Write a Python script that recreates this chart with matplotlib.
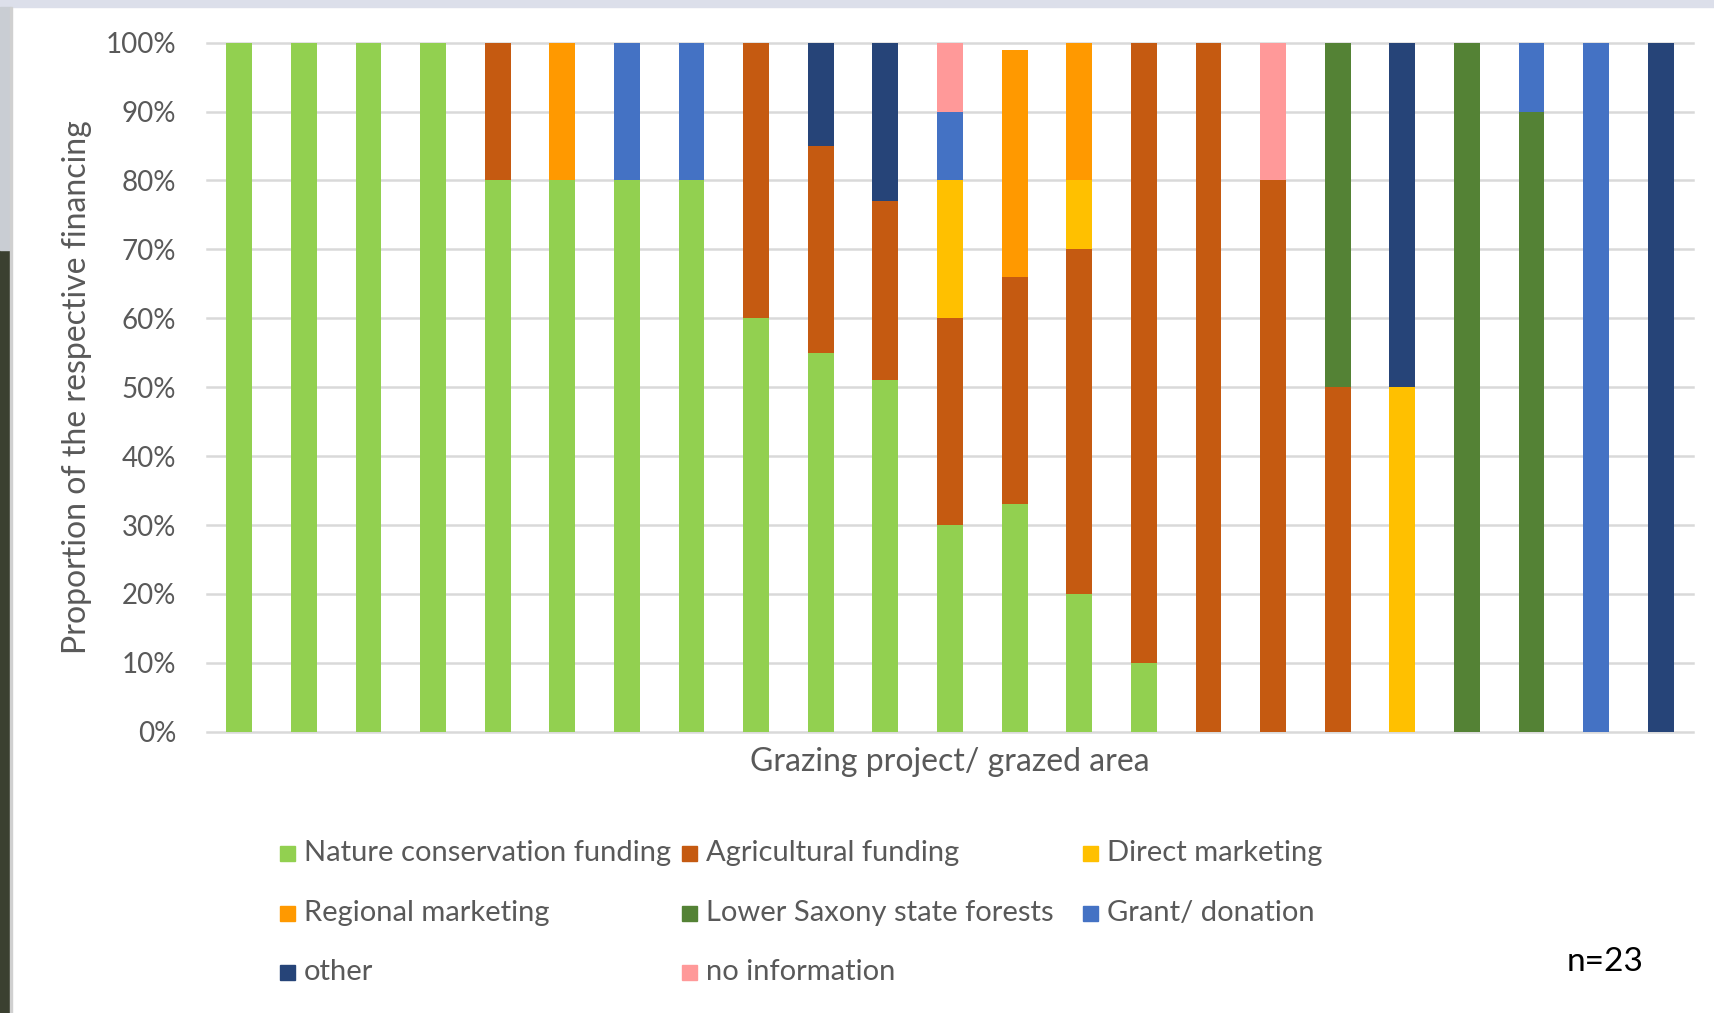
import matplotlib.pyplot as plt
from matplotlib.patches import Rectangle
import numpy as np

plt.rcParams['font.family'] = ['Lato', 'DejaVu Sans']

# shares per grazing project (in %), stacked bottom to top
nature_cons = [100, 100, 100, 100, 80, 80, 80, 80, 60, 55, 51, 30, 33, 20, 10, 0, 0, 0, 0, 0, 0, 0, 0]
agricultural = [0, 0, 0, 0, 20, 0, 0, 0, 40, 30, 26, 30, 33, 50, 90, 100, 80, 50, 0, 0, 0, 0, 0]
direct_mkt = [0, 0, 0, 0, 0, 0, 0, 0, 0, 0, 0, 20, 0, 10, 0, 0, 0, 0, 50, 0, 0, 0, 0]
regional_mkt = [0, 0, 0, 0, 0, 20, 0, 0, 0, 0, 0, 0, 33, 20, 0, 0, 0, 0, 0, 0, 0, 0, 0]
state_forests = [0, 0, 0, 0, 0, 0, 0, 0, 0, 0, 0, 0, 0, 0, 0, 0, 0, 50, 0, 100, 90, 0, 0]
grant = [0, 0, 0, 0, 0, 0, 20, 20, 0, 0, 0, 10, 0, 0, 0, 0, 0, 0, 0, 0, 10, 100, 0]
other = [0, 0, 0, 0, 0, 0, 0, 0, 0, 15, 23, 0, 0, 0, 0, 0, 0, 0, 50, 0, 0, 0, 100]
no_info = [0, 0, 0, 0, 0, 0, 0, 0, 0, 0, 0, 10, 0, 0, 0, 0, 20, 0, 0, 0, 0, 0, 0]

series = [
    ('Nature conservation funding', nature_cons, '#92D050'),
    ('Agricultural funding', agricultural, '#C55A11'),
    ('Direct marketing', direct_mkt, '#FFC000'),
    ('Regional marketing', regional_mkt, '#FF9900'),
    ('Lower Saxony state forests', state_forests, '#548235'),
    ('Grant/ donation', grant, '#4472C4'),
    ('other', other, '#264478'),
    ('no information', no_info, '#FF9999'),
]

W, H = 1714, 1013
fig = plt.figure(figsize=(W / 100, H / 100), dpi=100)
fig.patch.set_facecolor('white')

# screenshot edges
fig.patches.append(Rectangle((0, 1 - 7 / H), 1, 7 / H, transform=fig.transFigure,
                             color='#DCDFEA', zorder=0))
fig.patches.append(Rectangle((0, 0), 10 / W, 1 - 250 / H, transform=fig.transFigure,
                             color='#3B4030', zorder=0))
fig.patches.append(Rectangle((0, 1 - 250 / H), 10 / W, 250 / H - 7 / H, transform=fig.transFigure,
                             color='#C9CDD3', zorder=0))
fig.patches.append(Rectangle((10 / W, 0), 2 / W, 1 - 7 / H, transform=fig.transFigure,
                             color='#D0D0D0', zorder=0))

ax = fig.add_axes((207 / W, 1 - 731.7 / H, 1486 / W, 689 / H))
x = np.arange(len(nature_cons))
bottom = np.zeros(len(x))
for name, vals, col in series:
    vals = np.array(vals, dtype=float)
    ax.bar(x, vals, 0.4, bottom=bottom, color=col, zorder=3, label=name)
    bottom += vals

ax.set_xlim(-0.5, len(x) - 0.5)
ax.set_ylim(0, 100)
ax.set_yticks(range(0, 101, 10))
ax.set_yticklabels([f'{v}%' for v in range(0, 101, 10)])
ax.set_xticks([])
for v in range(0, 101, 10):
    ax.axhline(v, color='#D9D9D9', lw=1.8, zorder=1, clip_on=False)
for s in ax.spines.values():
    s.set_visible(False)
ax.tick_params(axis='y', length=0, pad=22, labelsize=20, labelcolor='#595959')

ax.set_ylabel('Proportion of the respective financing', fontsize=23, color='#595959', va='center')
ax.yaxis.set_label_coords(-0.0875, 0.5)
ax.set_xlabel('Grazing project/ grazed area', fontsize=23, color='#595959', va='center')
ax.xaxis.set_label_coords(0.5, -0.044)

# legend, filled row by row
col_x = [280, 682, 1083]
row_y = [853, 913, 972]
sq = 15
for i, (name, vals, col) in enumerate(series):
    cx = col_x[i % 3]
    cy = row_y[i // 3]
    fig.patches.append(Rectangle((cx / W, 1 - (cy + sq / 2) / H), sq / W, sq / H,
                                 transform=fig.transFigure, color=col, zorder=3))
    fig.text((cx + 24) / W, 1 - cy / H, name, fontsize=21, color='#595959',
             va='center', ha='left')

fig.text(1605 / W, 1 - 962 / H, 'n=23', fontsize=24, color='black', ha='center', va='center')

fig.savefig('out.png', dpi=100)
